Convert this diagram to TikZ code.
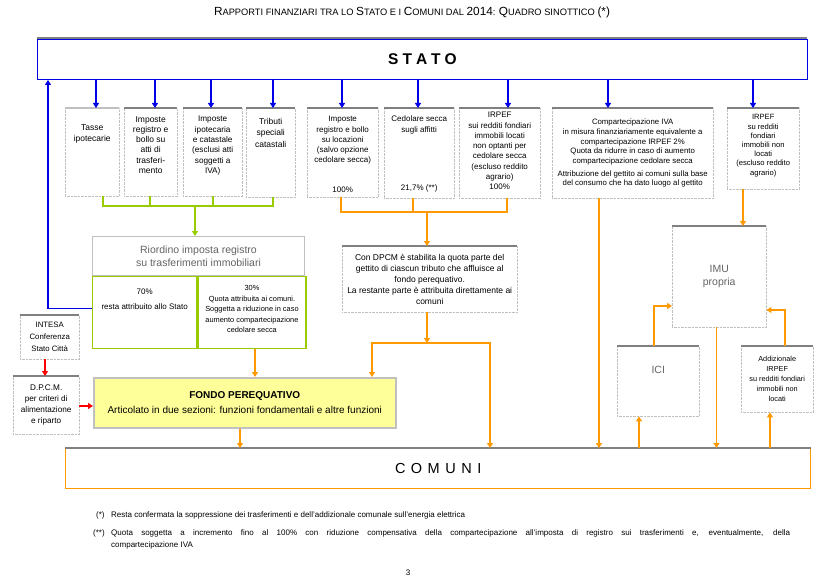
\documentclass[tikz,border=0pt]{standalone}
\usepackage{fontspec}
\setmainfont{Liberation Sans}
\usetikzlibrary{arrows.meta, positioning, calc}
\definecolor{statoblue}{RGB}{0,0,230}
\definecolor{perorange}{RGB}{255,153,0}
\definecolor{riogreen}{RGB}{153,204,0}
\definecolor{fondoyellow}{RGB}{255,255,153}
\definecolor{boxgray}{RGB}{192,192,192}
\definecolor{topgray}{RGB}{128,128,128}
\definecolor{txtgray}{RGB}{100,100,100}
\newcommand{\boxtxt}[3]{\parbox[c][#2][t]{#1}{\centering #3}}
\newcommand{\bigsc}[1]{{\fontsize{11.8}{12}\selectfont #1}}
\newcommand{\wide}[1]{\hspace{#1}}

\begin{document}
\begin{tikzpicture}[x=1pt, y=-1pt,
    every node/.style={font=\fontsize{8}{10.3}\selectfont, inner sep=0pt},
    statobox/.style={draw=statoblue, line width=1pt, anchor=north west, minimum width=770pt, minimum height=40pt, font=\fontsize{15.5}{16}\selectfont\bfseries},
    comunibox/.style={draw=perorange, line width=1.3pt, anchor=north west, minimum width=745pt, minimum height=40pt, font=\fontsize{14.5}{15}\selectfont},
    topbox/.style={draw=boxgray, densely dotted, fill=white, anchor=north west},
    riobox/.style={draw=riogreen, line width=1.3pt, anchor=north west, minimum width=#1, minimum height=72pt},
    fondobox/.style={draw=boxgray, line width=1.5pt, fill=fondoyellow, anchor=north west, minimum width=302pt, minimum height=50pt, align=center, font=\fontsize{10}{15}\selectfont},
    topline/.style={draw=topgray, line width=1.6pt},
    bluearr/.style={draw=statoblue, line width=1.1pt, -{Triangle[length=5pt, width=6pt]}},
    orangearr/.style={draw=perorange, line width=1.1pt, -{Triangle[length=5pt, width=6pt]}},
    orangeln/.style={draw=perorange, line width=1.1pt},
    greenln/.style={draw=riogreen, line width=1.1pt},
    greenarr/.style={draw=riogreen, line width=1.1pt, -{Triangle[length=5pt, width=6pt]}},
    redarr/.style={draw=red, line width=1.1pt, -{Triangle[length=5pt, width=6pt]}},
    note/.style={font=\fontsize{8}{12}\selectfont},
]
  \fill[white] (0,0) rectangle (816,588);
  \useasboundingbox (0,0) rectangle (816,588);

  % title
  \node (title) at (412,12) {\fontsize{9.3}{12}\selectfont
    \bigsc{R}APPORTI FINANZIARI TRA LO \bigsc{S}TATO E I \bigsc{C}OMUNI DAL \bigsc{2014}: \bigsc{Q}UADRO SINOTTICO \bigsc{(*)}};

  % STATO
  \draw[topline] (37,38) -- (807,38);
  \node[statobox] (stato) at (37,39) {S\wide{4pt}T\wide{4pt}A\wide{4pt}T\wide{4pt}O};

  % row of taxes
  \node[topbox] (t1) at (65,108) {\boxtxt{54pt}{88pt}{\fontsize{8.5}{11}\selectfont\vspace*{16pt}Tasse\\ipotecarie}};
  \node[topbox] (t2) at (124,108) {\boxtxt{53pt}{88pt}{\fontsize{8.5}{10.3}\selectfont\vspace*{8pt}Imposte\\registro e\\bollo su\\atti di\\trasferi-\\mento}};
  \node[topbox] (t3) at (183,108) {\boxtxt{59pt}{88pt}{\fontsize{8.2}{10.3}\selectfont\vspace*{8pt}Imposte\\ipotecaria\\e catastale\\(esclusi atti\\soggetti a\\IVA)}};
  \node[topbox] (t4) at (246,108) {\boxtxt{49pt}{89pt}{\fontsize{8.5}{11.5}\selectfont\vspace*{10pt}Tributi\\speciali\\catastali}};
  \node[topbox] (t5) at (307,108) {\boxtxt{71pt}{89pt}{\vspace*{8pt}Imposte\\registro e bollo\\su locazioni\\(salvo opzione\\cedolare secca)\par\vfill 100\%\par\vspace*{5pt}}};
  \node[topbox] (t6) at (384,108) {\boxtxt{70pt}{90pt}{\vspace*{8pt}Cedolare secca\\sugli affitti\par\vfill 21,7\% (**)\par\vspace*{6pt}}};
  \node[topbox] (t7) at (459,108) {\boxtxt{81pt}{90pt}{\vspace*{4pt}IRPEF\\sui redditi fondiari\\immobili locati\\non optanti per\\cedolare secca\\(escluso reddito\\agrario)\\100\%}};
  \node[topbox] (t8) at (552,108) {\boxtxt{161pt}{90pt}{\fontsize{7.8}{9.6}\selectfont\vspace*{11pt}Compartecipazione IVA\\in misura finanziariamente equivalente a\\compartecipazione IRPEF 2\%\\Quota da ridurre in caso di aumento\\compartecipazione cedolare secca\\[3.5pt]Attribuzione del gettito ai comuni sulla base\\del consumo che ha dato luogo al gettito}};
  \node[topbox] (t9) at (727,108) {\boxtxt{72pt}{81pt}{\fontsize{7.6}{9.2}\selectfont\vspace*{6.5pt}IRPEF\\su redditi\\fondiari\\immobili non\\locati\\(escluso reddito\\agrario)}};
  \draw[draw=boxgray, line width=1.6pt] (t1.north west) -- (t1.north east);
  \foreach \b in {t2,t3,t4,t5,t6,t7,t8,t9}
    \draw[topline] (\b.north west) -- (\b.north east);

  \foreach \b/\x in {t1/96,t2/155,t3/211,t4/273,t5/342,t6/418,t7/508,t8/608,t9/753}
    \draw[bluearr] (stato.south -| \x,0) -- (\b.north -| \x,0);

  % riordino registro
  \node[draw=boxgray, line width=1pt, anchor=north west, minimum width=212pt, minimum height=39pt, align=center, text=txtgray, font=\fontsize{10.5}{12.5}\selectfont] (rtitle) at (92,236) {Riordino imposta registro\\su trasferimenti immobiliari};
  \node[riobox=104pt, below right=0pt and 0pt of rtitle.south west] (r70) {\boxtxt{104pt}{72pt}{\vspace*{12pt}70\%\\[5pt]resta attribuito allo Stato}};
  \node[riobox=108pt, right=0pt of r70] (r30) {\boxtxt{108pt}{72pt}{\fontsize{7.4}{10.5}\selectfont\vspace*{9pt}30\%\\Quota attribuita ai comuni.\\Soggetta a riduzione in caso\\aumento compartecipazione\\cedolare secca}};

  \coordinate (gbar) at (0,206);
  \foreach \b/\x in {t1/103,t2/150,t3/213,t4/273}
    \draw[greenln] (\b.south -| \x,0) -- (gbar -| \x,0);
  \draw[greenln] (gbar -| 102,0) -- (gbar -| 274,0);
  \draw[greenarr] (gbar -| 195,0) -- (rtitle.north -| 195,0);
  \draw[bluearr] ($(r70.west)+(0,-4)$) -| ($(stato.south west)+(11,0)$);

  % DPCM quota
  \node[topbox, minimum width=175pt, minimum height=66pt, align=center, font=\fontsize{8.5}{11}\selectfont] (dpcm) at (342,246) {Con DPCM è stabilita la quota parte del\\gettito di ciascun tributo che affluisce al\\fondo perequativo.\\La restante parte è attribuita direttamente ai\\comuni};
  \draw[topline] (dpcm.north west) -- (dpcm.north east);

  \coordinate (obar) at (0,212);
  \foreach \b/\x in {t5/341,t6/413,t7/507}
    \draw[orangeln] (\b.south -| \x,0) -- (obar -| \x,0);
  \draw[orangeln] (obar -| 340,0) -- (obar -| 508,0);
  \draw[orangearr] (obar -| 427,0) -- (dpcm.north -| 427,0);

  % fondo perequativo
  \node[fondobox] (fondo) at (93,377) {\textbf{FONDO PEREQUATIVO}\\Articolato in due sezioni: funzioni fondamentali e altre funzioni};

  \coordinate (obar2) at (0,343);
  \draw[orangearr] (dpcm.south -| 427,0) -- (obar2 -| 427,0);
  \draw[orangeln] (obar2 -| 371,0) -- (obar2 -| 491,0);
  \draw[orangearr] (obar2 -| 372,0) -- (fondo.north -| 372,0);
  \draw[orangearr] (r30.south -| 255,0) -- (fondo.north -| 255,0);

  % intesa and dpcm on the left
  \node[topbox, minimum width=59pt, minimum height=44pt, align=center, font=\fontsize{7.8}{12}\selectfont] (intesa) at (20,315) {INTESA\\Conferenza\\Stato Città};
  \node[topbox, minimum width=66pt, minimum height=58pt, align=center, font=\fontsize{8.2}{11}\selectfont] (dpcml) at (13,376) {D.P.C.M.\\per criteri di\\alimentazione\\e riparto};
  \draw[topline] (intesa.north west) -- (intesa.north east);
  \draw[topline] (dpcml.north west) -- (dpcml.north east);
  \draw[redarr] (intesa.south -| 45,0) -- (dpcml.north -| 45,0);
  \draw[redarr] (dpcml.east |- 0,406) -- (fondo.west |- 0,406);

  % IMU, ICI, addizionale
  \node[topbox, minimum width=94pt, minimum height=101pt, align=center, text=txtgray, font=\fontsize{10.5}{13}\selectfont] (imu) at (672,226) {IMU\\propria};
  \node[topbox] (ici) at (617,346) {\boxtxt{82pt}{70pt}{\fontsize{10.5}{13}\selectfont\color{txtgray}\vspace*{20pt}ICI}};
  \node[topbox, minimum width=72pt, minimum height=66pt, align=center, font=\fontsize{7.3}{10}\selectfont] (addiz) at (741,346) {Addizionale\\IRPEF\\su redditi fondiari\\immobili non\\locati};
  \foreach \b in {imu,ici,addiz}
    \draw[topline] (\b.north west) -- (\b.north east);

  % COMUNI
  \node[comunibox] (comuni) at (65,448) {C\wide{5.5pt}O\wide{5.5pt}M\wide{5.5pt}U\wide{5.5pt}N\wide{5.5pt}I};
  \draw[topline] (comuni.north west) -- (comuni.north east);

  \draw[orangearr] (fondo.south -| 240,0) -- (comuni.north -| 240,0);
  \draw[orangearr] (obar2 -| 490,0) -- (comuni.north -| 490,0);
  \draw[orangearr] (t8.south -| 599,0) -- (comuni.north -| 599,0);
  \draw[orangearr] (t9.south -| 743,0) -- (imu.north -| 743,0);
  \draw[orangearr, line width=1.3pt] (imu.south -| 716.5,0) -- (comuni.north -| 716.5,0);
  \draw[orangearr] (ici.north -| 654,0) |- (imu.west |- 0,306);
  \draw[orangearr] (addiz.north -| 785,0) |- (imu.east |- 0,310);
  \draw[orangearr] (comuni.north -| 639,0) -- (ici.south -| 639,0);
  \draw[orangearr] (comuni.north -| 770,0) -- (addiz.south -| 770,0);

  % notes
  \node[note, anchor=base west] (n1lab) at (96,517) {(*)};
  \node[note, anchor=base west] (n1) at (111,517) {Resta confermata la soppressione dei trasferimenti e dell'addizionale comunale sull'energia elettrica};
  \node[note, anchor=base west] (n2lab) at (93,535) {(**)};
  \node[note, anchor=north west, text width=679pt, align=justify] (n2) at (111,529) {Quota soggetta a incremento fino al 100\% con riduzione compensativa della compartecipazione all'imposta di registro sui trasferimenti e, eventualmente, della\linebreak compartecipazione IVA};
  \node[note] (pgnum) at (408,573) {3};
\end{tikzpicture}
\end{document}
